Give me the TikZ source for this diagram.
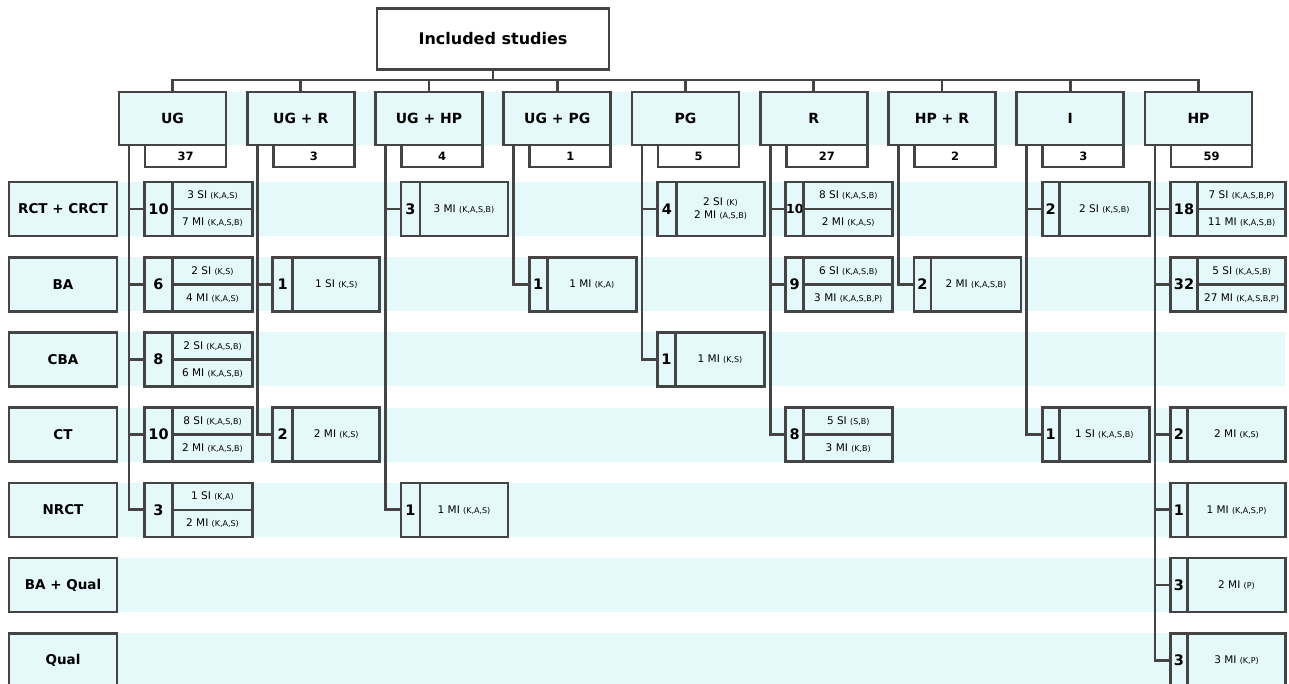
\documentclass[tikz,border=0pt]{standalone}
\usepackage{fontspec}
\setmainfont{DejaVu Sans}
\definecolor{cy}{RGB}{229,249,251}
\definecolor{ln}{RGB}{68,68,68}
\newcommand\pk[1]{{\fontsize{8}{9}\selectfont(#1)}}
\newcommand\cellS[7]{%
  \node[cnum,minimum width=#4pt,anchor=north west] (#1) at (#2,#3) {#6};
  \node[ctxt,minimum width=#5pt,minimum height=54pt,anchor=north west] (#1t) at (#1.north east) {#7};}
\newcommand\cellD[8]{%
  \node[cnum,minimum width=#4pt,anchor=north west] (#1) at (#2,#3) {#6};
  \node[ctxt,minimum width=#5pt,minimum height=27pt,anchor=north west] (#1a) at (#1.north east) {#7};
  \node[ctxt,minimum width=#5pt,minimum height=27pt,anchor=north west] (#1b) at (#1a.south west) {#8};}
\begin{document}
\begin{tikzpicture}[x=1pt,y=-1pt,
  box/.style={draw=ln,line width=2.6pt,inner sep=0pt,outer sep=0pt},
  topbox/.style={box,fill=white,minimum width=232pt,minimum height=61pt,font=\bfseries\fontsize{16}{18}\selectfont},
  hdr/.style={box,fill=cy,minimum width=107pt,minimum height=53pt,font=\bfseries\fontsize{14}{16}\selectfont,anchor=north west},
  hnum/.style={box,fill=white,minimum width=81pt,minimum height=22pt,font=\bfseries\fontsize{11.5}{12}\selectfont,anchor=north east},
  rowlab/.style={box,fill=cy,minimum width=108pt,minimum height=54pt,font=\bfseries\fontsize{13.5}{16}\selectfont,anchor=north west},
  cnum/.style={box,fill=cy,minimum height=54pt,font=\bfseries\fontsize{14.5}{16}\selectfont},
  ctxt/.style={box,fill=cy,align=center,font=\fontsize{10.5}{13}\selectfont},
  conn/.style={draw=ln,line width=2.8pt}]
\useasboundingbox (0,0) rectangle (1289,683);
% background bands
\fill[cy] (119,92) rectangle (1251,145);
\foreach \t in {182,257.2,332.4,407.6,482.8,558,633.2}
  \fill[cy] (9,\t) rectangle (1285,\t+54);
% top
\node[topbox] (top) at (493,39) {Included studies};
\coordinate (bus) at (0,80);
% headers
\node[hdr] (hUG) at (119,92) {UG};
\node[hdr] (hUGR) at (247.25,92) {UG + R};
\node[hdr] (hUGHP) at (375.5,92) {UG + HP};
\node[hdr] (hUGPG) at (503.75,92) {UG + PG};
\node[hdr] (hPG) at (632,92) {PG};
\node[hdr] (hR) at (760.25,92) {R};
\node[hdr] (hHPR) at (888.5,92) {HP + R};
\node[hdr] (hI) at (1016.75,92) {I};
\node[hdr] (hHP) at (1145,92) {HP};
\node[hnum] (nUG) at (hUG.south east) {37};
\node[hnum] (nUGR) at (hUGR.south east) {3};
\node[hnum] (nUGHP) at (hUGHP.south east) {4};
\node[hnum] (nUGPG) at (hUGPG.south east) {1};
\node[hnum] (nPG) at (hPG.south east) {5};
\node[hnum] (nR) at (hR.south east) {27};
\node[hnum] (nHPR) at (hHPR.south east) {2};
\node[hnum] (nI) at (hI.south east) {3};
\node[hnum] (nHP) at (hHP.south east) {59};
% bus
\draw[conn] (top.south) -- (top.south |- bus);
\draw[conn] (hUG.north) -- (hUG.north |- bus) -- (hHP.north |- bus) -- (hHP.north);
\foreach \h in {hUGR,hUGHP,hUGPG,hPG,hR,hHPR,hI}
  \draw[conn] (\h.north) -- (\h.north |- bus);
% column line tops
\foreach \h in {UG,UGR,UGHP,UGPG,PG,R,HPR,I,HP}
  \coordinate (t\h) at ([xshift=10pt]h\h.south west);
% row labels
\node[rowlab] (rA) at (9,182) {RCT + CRCT};
\node[rowlab] (rB) at (9,257.2) {BA};
\node[rowlab] (rC) at (9,332.4) {CBA};
\node[rowlab] (rD) at (9,407.6) {CT};
\node[rowlab] (rE) at (9,482.8) {NRCT};
\node[rowlab] (rF) at (9,558) {BA + Qual};
\node[rowlab] (rG) at (9,633.2) {Qual};
% cells: RCT + CRCT
\cellD{cUGa}{144.5}{182}{28}{80}{10}{3 SI \pk{K,A,S}}{7 MI \pk{K,A,S,B}}
\cellS{cUGHPa}{401}{182}{19}{88}{3}{3 MI \pk{K,A,S,B}}
\cellS{cPGa}{657.5}{182}{19}{88}{4}{2 SI \pk{K}\\2 MI \pk{A,S,B}}
\cellD{cRa}{785.75}{182}{18}{89}{{\fontsize{12.5}{12}\selectfont 10}}{8 SI \pk{K,A,S,B}}{2 MI \pk{K,A,S}}
\cellS{cIa}{1042.25}{182}{17}{90}{2}{2 SI \pk{K,S,B}}
\cellD{cHPa}{1170.5}{182}{27}{88}{18}{7 SI \pk{K,A,S,B,P}}{11 MI \pk{K,A,S,B}}
% BA
\cellD{cUGb}{144.5}{257.2}{28}{80}{6}{2 SI \pk{K,S}}{4 MI \pk{K,A,S}}
\cellS{cUGRb}{272.75}{257.2}{20}{87}{1}{1 SI \pk{K,S}}
\cellS{cUGPGb}{529.25}{257.2}{18}{89}{1}{1 MI \pk{K,A}}
\cellD{cRb}{785.75}{257.2}{18}{89}{9}{6 SI \pk{K,A,S,B}}{3 MI \pk{K,A,S,B,P}}
\cellS{cHPRb}{914}{257.2}{17}{90}{2}{2 MI \pk{K,A,S,B}}
\cellD{cHPb}{1170.5}{257.2}{27}{88}{32}{5 SI \pk{K,A,S,B}}{27 MI \pk{K,A,S,B,P}}
% CBA
\cellD{cUGc}{144.5}{332.4}{28}{80}{8}{2 SI \pk{K,A,S,B}}{6 MI \pk{K,A,S,B}}
\cellS{cPGc}{657.5}{332.4}{18}{89}{1}{1 MI \pk{K,S}}
% CT
\cellD{cUGd}{144.5}{407.6}{28}{80}{10}{8 SI \pk{K,A,S,B}}{2 MI \pk{K,A,S,B}}
\cellS{cUGRd}{272.75}{407.6}{20}{87}{2}{2 MI \pk{K,S}}
\cellD{cRd}{785.75}{407.6}{18}{89}{8}{5 SI \pk{S,B}}{3 MI \pk{K,B}}
\cellS{cId}{1042.25}{407.6}{17}{90}{1}{1 SI \pk{K,A,S,B}}
\cellS{cHPd}{1170.5}{407.6}{17}{98}{2}{2 MI \pk{K,S}}
% NRCT
\cellD{cUGe}{144.5}{482.8}{28}{80}{3}{1 SI \pk{K,A}}{2 MI \pk{K,A,S}}
\cellS{cUGHPe}{401}{482.8}{19}{88}{1}{1 MI \pk{K,A,S}}
\cellS{cHPe}{1170.5}{482.8}{17}{98}{1}{1 MI \pk{K,A,S,P}}
% BA + Qual, Qual
\cellS{cHPf}{1170.5}{558}{17}{98}{3}{2 MI \pk{P}}
\cellS{cHPg}{1170.5}{633.2}{17}{98}{3}{3 MI \pk{K,P}}
% connectors
\foreach \c in {cUGa,cUGb,cUGc,cUGd,cUGe} \draw[conn] (tUG) |- (\c.west);
\foreach \c in {cUGRb,cUGRd} \draw[conn] (tUGR) |- (\c.west);
\foreach \c in {cUGHPa,cUGHPe} \draw[conn] (tUGHP) |- (\c.west);
\draw[conn] (tUGPG) |- (cUGPGb.west);
\foreach \c in {cPGa,cPGc} \draw[conn] (tPG) |- (\c.west);
\foreach \c in {cRa,cRb,cRd} \draw[conn] (tR) |- (\c.west);
\draw[conn] (tHPR) |- (cHPRb.west);
\foreach \c in {cIa,cId} \draw[conn] (tI) |- (\c.west);
\foreach \c in {cHPa,cHPb,cHPd,cHPe,cHPf,cHPg} \draw[conn] (tHP) |- (\c.west);
\end{tikzpicture}
\end{document}
